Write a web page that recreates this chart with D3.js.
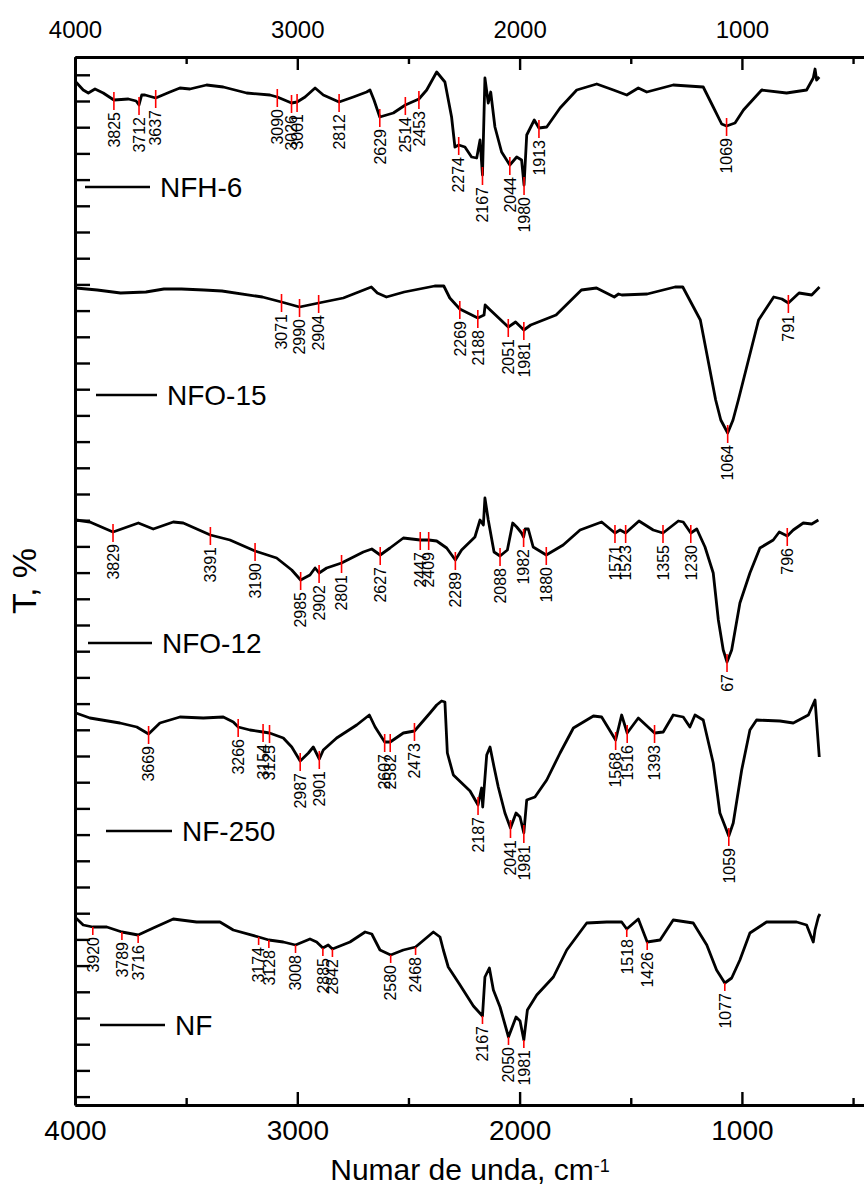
<!DOCTYPE html>
<html>
<head>
<meta charset="utf-8">
<script src="https://cdn.jsdelivr.net/npm/d3@7"></script>
<style>
  body { margin: 0; background: #fff; }
  text { font-family: "Liberation Sans", Arial, sans-serif; fill: #000; }
</style>
</head>
<body>
<div id="ftir"></div>
<script>
// espectros: [numero de onda, T (unidades desplazadas)]
var nfh6 = [[3996,102.3],[3963,101.5],[3940,101.2],[3910,101.6],[3873,101.2],[3825,100.5],[3760,100.6],[3725,100.4],[3712,100.0],[3700,101.0],[3685,101.0],[3637,100.7],[3573,101.3],[3528,101.7],[3483,101.6],[3408,102.0],[3333,101.8],[3228,101.2],[3123,101.0],[3090,100.8],[3026,100.2],[3001,100.3],[2965,100.8],[2920,101.7],[2883,101.0],[2812,100.3],[2748,100.8],[2688,101.3],[2673,101.5],[2655,100.5],[2629,98.8],[2568,99.2],[2514,100.0],[2453,100.6],[2418,101.5],[2373,103.3],[2336,102.3],[2306,98.8],[2291,95.8],[2274,96.0],[2246,95.8],[2216,94.8],[2193,94.7],[2178,96.5],[2167,93.0],[2156,102.7],[2141,100.2],[2130,101.3],[2111,97.8],[2081,95.3],[2044,94.0],[2013,94.8],[1991,94.5],[1980,92.0],[1968,97.0],[1934,98.5],[1913,97.7],[1878,97.8],[1818,99.7],[1743,101.5],[1653,102.1],[1578,101.5],[1518,101.0],[1466,101.7],[1428,101.3],[1309,102.0],[1174,101.8],[1129,99.8],[1091,98.1],[1069,97.9],[1031,98.2],[993,99.5],[911,101.5],[799,101.2],[709,101.5],[679,102.7],[671,103.6],[664,102.5],[652,102.8]];

var nfo15 = [[3996,81.7],[3900,81.5],[3795,81.2],[3681,81.3],[3600,81.6],[3521,81.6],[3420,81.5],[3339,81.4],[3157,80.8],[3071,80.3],[2990,79.8],[2904,80.2],[2793,80.7],[2667,81.8],[2640,81.2],[2599,80.8],[2519,81.3],[2382,81.9],[2341,81.9],[2314,80.7],[2269,79.6],[2188,78.7],[2160,79.0],[2155,80.0],[2132,79.5],[2051,77.8],[2018,78.3],[1981,77.5],[1950,78.0],[1836,79.0],[1722,81.5],[1654,81.7],[1574,80.8],[1555,81.1],[1540,81.0],[1426,81.1],[1301,81.8],[1266,81.8],[1187,78.5],[1118,70.5],[1095,68.5],[1064,67.2],[1040,68.5],[1016,70.5],[925,78.5],[857,80.8],[820,80.6],[791,80.2],[743,81.2],[686,81.0],[651,81.8]];

var nfo12 = [[3996,58.5],[3933,58.3],[3829,57.3],[3715,58.2],[3648,57.6],[3558,58.3],[3513,58.2],[3391,57.0],[3303,56.5],[3190,55.4],[3093,54.7],[3025,53.5],[2985,52.5],[2943,53.0],[2920,53.7],[2902,53.2],[2868,53.7],[2801,54.2],[2703,55.3],[2665,55.6],[2627,55.0],[2583,55.7],[2523,56.7],[2447,56.5],[2409,56.5],[2373,56.4],[2328,55.7],[2289,54.5],[2261,55.5],[2201,56.8],[2178,58.5],[2163,58.0],[2156,60.7],[2141,58.5],[2115,55.3],[2088,54.9],[2055,55.5],[2031,58.2],[2013,57.8],[1991,57.2],[1982,56.8],[1975,57.6],[1961,57.6],[1939,55.8],[1880,55.0],[1804,56.0],[1728,57.5],[1631,58.3],[1571,57.2],[1548,57.5],[1523,57.2],[1463,58.4],[1399,57.5],[1355,57.2],[1286,58.4],[1264,58.3],[1230,57.2],[1203,57.6],[1166,55.8],[1129,53.2],[1106,48.5],[1084,45.5],[1067,44.3],[1046,45.5],[1009,50.2],[964,53.2],[919,55.7],[859,56.5],[832,57.3],[796,56.9],[769,57.5],[724,58.2],[686,58.1],[656,58.5]];

var nf250 = [[3996,39.2],[3933,38.7],[3798,38.2],[3722,37.8],[3669,37.1],[3618,38.2],[3528,38.8],[3423,38.7],[3333,38.8],[3288,38.3],[3266,37.8],[3213,37.5],[3154,37.3],[3125,37.2],[3063,36.7],[3025,35.8],[2987,34.4],[2950,35.2],[2928,35.8],[2901,34.6],[2883,35.5],[2823,36.7],[2733,38.0],[2676,39.0],[2650,37.8],[2607,36.3],[2582,36.3],[2523,37.2],[2473,37.4],[2403,39.2],[2373,40.0],[2351,40.4],[2336,40.3],[2325,35.2],[2298,33.0],[2223,31.4],[2187,30.0],[2171,31.7],[2166,29.8],[2148,35.0],[2133,35.8],[2115,33.8],[2096,31.8],[2066,29.2],[2041,27.7],[2016,29.2],[1998,28.8],[1981,27.2],[1968,30.5],[1931,30.8],[1878,32.5],[1818,35.2],[1758,37.7],[1668,38.9],[1631,38.8],[1568,36.5],[1541,39.0],[1516,37.2],[1466,38.7],[1393,37.2],[1354,37.3],[1309,39.0],[1264,38.8],[1234,37.8],[1211,39.0],[1174,38.5],[1129,34.2],[1099,29.2],[1059,26.9],[1039,28.2],[1001,33.5],[964,37.5],[934,38.5],[829,38.4],[769,38.2],[701,39.0],[671,40.5],[652,34.8]];

var nf = [[3996,18.7],[3963,18.0],[3920,17.8],[3857,17.8],[3789,17.3],[3716,17.0],[3648,17.7],[3558,18.6],[3453,18.3],[3348,18.3],[3288,17.5],[3174,16.8],[3128,16.5],[3063,16.3],[3008,16.0],[2943,16.6],[2913,16.3],[2885,15.7],[2861,16.0],[2842,15.6],[2763,16.3],[2695,17.3],[2665,17.1],[2628,15.5],[2580,15.0],[2523,15.5],[2468,15.8],[2388,17.3],[2358,16.8],[2343,15.5],[2321,13.8],[2268,12.0],[2208,9.9],[2167,8.9],[2156,12.8],[2136,13.7],[2118,11.5],[2088,9.8],[2050,6.8],[2016,8.8],[1998,8.4],[1981,6.5],[1965,9.5],[1923,11.0],[1848,12.8],[1788,15.5],[1698,18.2],[1608,18.3],[1541,18.3],[1518,17.6],[1466,18.6],[1426,16.3],[1368,16.5],[1309,18.5],[1219,18.2],[1158,16.0],[1114,13.5],[1077,12.2],[1046,12.7],[1009,14.5],[964,17.2],[889,18.3],[754,18.3],[709,18.0],[679,16.3],[671,17.5],[656,18.8],[649,19.1]];

// picos marcados
var peaksNFH6 = [3825,3712,3637,3090,3026,3001,2812,2629,2514,2453,2274,2167,2044,1980,1913,1069];
var peaksNFO15 = [3071,2990,2904,2269,2188,2051,1981,1064,791];
var peaksNFO12 = [3829,3391,3190,2985,2902,2801,2627,2447,2409,2289,2088,1982,1880,1571,1523,1355,1230,1067,796];
var peaksNF250 = [3669,3266,3154,3125,2987,2901,2607,2582,2473,2187,2041,1981,1568,1516,1393,1059];
var peaksNF = [3920,3789,3716,3174,3128,3008,2885,2842,2580,2468,2167,2050,1981,1518,1426,1077];

var names = ["NFH-6","NFO-15","NFO-12","NF-250","NF"];
var xTicksMajor = [4000,3000,2000,1000];
var xTicksMinor = [3500,2500,1500,500];

// texto especial (la etiqueta 1067 aparece cortada)
var peakText = {"NFO-12": {1067: "67"}};

// posicion de las leyendas (px)
var legendPos = [
  {x1: 85, x2: 150, y: 187},
  {x1: 96, x2: 157, y: 395},
  {x1: 88, x2: 152, y: 643},
  {x1: 106, x2: 172, y: 831},
  {x1: 100, x2: 165, y: 1025}
];

var series = [
  {name: names[0], data: nfh6, peaks: peaksNFH6, short: false},
  {name: names[1], data: nfo15, peaks: peaksNFO15, short: false},
  {name: names[2], data: nfo12, peaks: peaksNFO12, short: false},
  {name: names[3], data: nf250, peaks: peaksNF250, short: false},
  {name: names[4], data: nf, peaks: peaksNF, short: true}
];

var W = 864, H = 1187;
var plotLeft = 75, plotTop = 57, plotBottom = 1105;

var svg = d3.select("#ftir").append("svg")
  .attr("width", W).attr("height", H);

var x = d3.scaleLinear().domain([4000, 440]).range([plotLeft, 866.4]);
var y = d3.scaleLinear().domain([0, 104.8]).range([plotBottom, plotTop]);

//interpolacion lineal sobre el espectro
function tAt(data, w) {
  for (var i = 0; i < data.length - 1; i++) {
    var a = data[i], b = data[i + 1];
    if (w <= a[0] && w >= b[0]) {
      var f = (a[0] - w) / (a[0] - b[0]);
      return a[1] + f * (b[1] - a[1]);
    }
  }
  return data[data.length - 1][1];
}

var line = d3.line()
  .x(function(d) { return x(d[0]); })
  .y(function(d) { return y(d[1]); });

//espectros
series.forEach(function(s, i) {
  svg.append("path")
    .datum(s.data)
    .attr("d", line)
    .attr("fill", "none")
    .attr("stroke", "#000")
    .attr("stroke-width", 2.8)
    .attr("stroke-linejoin", "round");

  //marcadores de picos
  s.peaks.forEach(function(p) {
    var px = x(p), py = y(tAt(s.data, p));
    var y1 = s.short ? py : py - 8;
    var y2 = s.short ? py + 8 : py + 10;
    svg.append("line")
      .attr("x1", px).attr("x2", px)
      .attr("y1", y1).attr("y2", y2)
      .attr("stroke", "#ff0000")
      .attr("stroke-width", 1.6);
    var txt = (peakText[s.name] && peakText[s.name][p]) || String(p);
    svg.append("text")
      .attr("transform", "translate(" + px + "," + (y2 + 2) + ") rotate(-90)")
      .attr("text-anchor", "end")
      .attr("dy", "0.36em")
      .style("font-size", "16px")
      .text(txt);
  });

  //leyenda
  var lp = legendPos[i];
  svg.append("line")
    .attr("x1", lp.x1).attr("x2", lp.x2)
    .attr("y1", lp.y).attr("y2", lp.y)
    .attr("stroke", "#000").attr("stroke-width", 2.6);
  svg.append("text")
    .attr("x", lp.x2 + 10).attr("y", lp.y)
    .attr("dy", "0.36em")
    .style("font-size", "28px")
    .text(s.name);
});

//ejes
var axisStyle = function(g) {
  g.select(".domain").attr("stroke-width", 3);
  g.selectAll(".tick line").attr("stroke-width", 2.4);
  g.selectAll("text").style("font-family", "'Liberation Sans', Arial, sans-serif").attr("fill", "#000");
};

svg.append("g")
  .attr("transform", "translate(0," + plotBottom + ")")
  .call(d3.axisBottom(x).tickValues(xTicksMajor).tickSize(-13).tickSizeOuter(0).tickPadding(15).tickFormat(d3.format("d")))
  .call(axisStyle)
  .selectAll("text").style("font-size", "28px");
svg.append("g")
  .attr("transform", "translate(0," + plotBottom + ")")
  .call(d3.axisBottom(x).tickValues(xTicksMinor).tickSize(-7).tickSizeOuter(0).tickFormat(""))
  .call(axisStyle);

svg.append("g")
  .attr("transform", "translate(0," + plotTop + ")")
  .call(d3.axisTop(x).tickValues(xTicksMajor).tickSize(-13).tickSizeOuter(0).tickPadding(19).tickFormat(d3.format("d")))
  .call(axisStyle)
  .selectAll("text").style("font-size", "24px");
svg.append("g")
  .attr("transform", "translate(0," + plotTop + ")")
  .call(d3.axisTop(x).tickValues(xTicksMinor).tickSize(-7).tickSizeOuter(0).tickFormat(""))
  .call(axisStyle);

svg.append("g")
  .attr("transform", "translate(" + plotLeft + ",0)")
  .call(d3.axisLeft(y).tickValues(d3.range(0.84, 104, 2.62)).tickSize(-15).tickSizeOuter(0).tickFormat(""))
  .call(axisStyle);

//titulos de los ejes
var xt = svg.append("text")
  .attr("x", 470).attr("y", 1180)
  .attr("text-anchor", "middle")
  .style("font-size", "30px");
xt.append("tspan").text("Numar de unda, cm");
xt.append("tspan").attr("dy", "-0.45em").style("font-size", "18px").text("-1");

svg.append("text")
  .attr("transform", "translate(36," + ((plotTop + plotBottom) / 2) + ") rotate(-90)")
  .attr("text-anchor", "middle")
  .style("font-size", "34px")
  .text("T, %");
</script>
</body>
</html>
